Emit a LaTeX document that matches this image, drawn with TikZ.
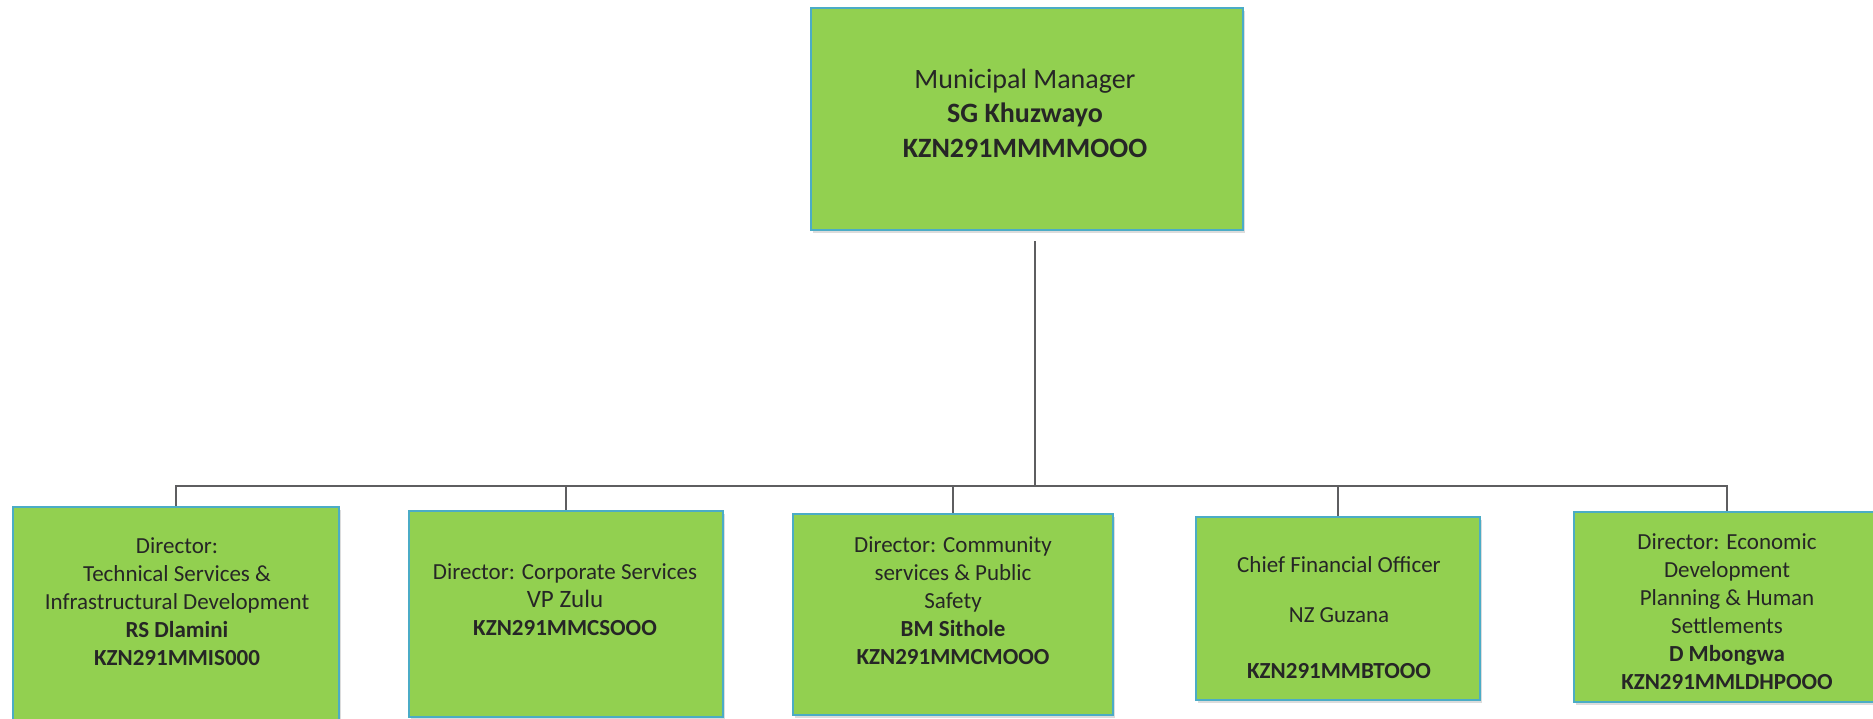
\documentclass[tikz,border=0pt]{standalone}
\usepackage{fontspec}
\setmainfont{Carlito}
\usetikzlibrary{shadows}
\definecolor{boxgreen}{HTML}{92D050}
\definecolor{boxedge}{HTML}{4BACC6}
\definecolor{linkgray}{HTML}{5E5E60}
\definecolor{inkgray}{HTML}{262626}
\begin{document}
\begin{tikzpicture}[x=0.5pt,y=-0.5pt,
  post/.style={draw=boxedge, line width=0.8pt, fill=boxgreen, inner sep=0pt,
    drop shadow={shadow xshift=0.8pt, shadow yshift=-1.6pt, opacity=0.28}},
  txt/.style={align=center, text=inkgray, inner sep=0pt,
    font=\fontsize{11.5}{14}\selectfont},
  toptxt/.style={align=center, text=inkgray, inner sep=0pt,
    font=\fontsize{14}{17.2}\selectfont},
  link/.style={draw=linkgray, line width=1.25pt, line join=miter}]
\useasboundingbox (0,0) rectangle (1873,718);
\clip (0,0) rectangle (1873,718);

% Municipal manager
\node[post, minimum width=216pt, minimum height=111pt] (mm) at (1027,119) {};
\node[toptxt] (tmm) at (1025,113)
  {Municipal Manager\\\textbf{SG Khuzwayo}\\\textbf{KZN291MMMMOOO}};

% Directors
\node[post, minimum width=163pt, minimum height=114pt] (b1) at (176,621) {};
\node[post, minimum width=157pt, minimum height=103pt] (b2) at (566,614) {};
\node[post, minimum width=160pt, minimum height=100.5pt] (b3) at (953,614.5) {};
\node[post, minimum width=142pt, minimum height=91.5pt] (b4) at (1338,608.5) {};
\node[post, minimum width=153pt, minimum height=95pt] (b5) at (1727,607) {};

\node[txt] (t1) at (177,602)
  {Director:\\Technical Services \&\\Infrastructural Development\\
   \textbf{RS Dlamini}\\\textbf{KZN291MMIS000}};
\node[txt] (t2) at (565,600)
  {Director: Corporate Services\\{\fontsize{12.5}{14}\selectfont VP Zulu}\\
   \textbf{KZN291MMCSOOO}};
\node[txt] (t3) at (953,601)
  {Director: Community\\services \& Public\\Safety\\
   \textbf{BM Sithole}\\\textbf{KZN291MMCMOOO}};
\node[txt] (t4) at (1339,618)
  {Chief Financial Officer\\[11pt]NZ Guzana\\[14pt]\textbf{KZN291MMBTOOO}};
\node[txt] (t5) at (1727,612)
  {Director: Economic\\Development\\Planning \& Human\\Settlements\\
   \textbf{D Mbongwa}\\\textbf{KZN291MMLDHPOOO}};

% Reporting lines
\coordinate (stem) at (1035,241);
\coordinate (hub) at (1035,486);
\draw[link] (stem) -- (hub);
\foreach \b in {b1,b2,b3,b4,b5}
  \draw[link] (hub) -| (\b.north);
\end{tikzpicture}
\end{document}
